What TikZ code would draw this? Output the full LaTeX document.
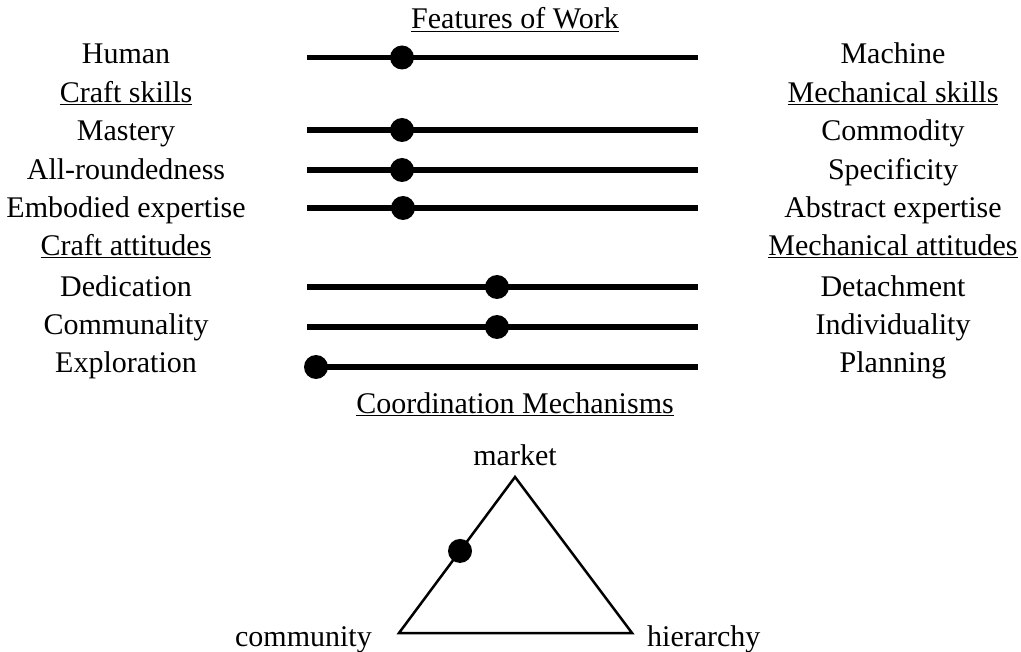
\documentclass[tikz,border=0pt]{standalone}
\usepackage{fontspec}
\setmainfont{Liberation Serif}
\usepackage{tikz}
\usetikzlibrary{positioning,calc}

\begin{document}
\begin{tikzpicture}[
  x=1pt, y=-1pt,
  lbl/.style={inner sep=0pt, anchor=base, font=\fontsize{30}{36}\selectfont},
  bar/.style={line width=5.5pt},
  knob/.style={circle, fill=black, inner sep=0pt, minimum size=24pt},
  tri/.style={line width=2.5pt, line join=miter}
]
\useasboundingbox (0,0) rectangle (1021,652);

% headings
\node[lbl] (work) at (515,29) {\underline{Features of Work}};
\node[lbl] (craftsk) at (126,103) {\underline{Craft skills}};
\node[lbl] (mechsk) at (893,103) {\underline{Mechanical skills}};
\node[lbl] (craftat) at (126,256) {\underline{Craft attitudes}};
\node[lbl] (mechat) at (893,256) {\underline{Mechanical attitudes}};
\node[lbl] (coord) at (515,414) {\underline{Coordination Mechanisms}};

% left labels
\node[lbl] (human) at (126,64) {Human};
\node[lbl] (mastery) at (126,141) {Mastery};
\node[lbl] (allround) at (126,180) {All-roundedness};
\node[lbl] (embodied) at (126,218) {Embodied expertise};
\node[lbl] (dedication) at (126,297) {Dedication};
\node[lbl] (communality) at (126,335) {Communality};
\node[lbl] (exploration) at (126,373) {Exploration};

% right labels
\node[lbl] (machine) at (893,64) {Machine};
\node[lbl] (commodity) at (893,141) {Commodity};
\node[lbl] (specificity) at (893,180) {Specificity};
\node[lbl] (abstract) at (893,218) {Abstract expertise};
\node[lbl] (detachment) at (893,297) {Detachment};
\node[lbl] (individuality) at (893,335) {Individuality};
\node[lbl] (planning) at (893,373) {Planning};

% scales
\coordinate (s1l) at (307,57.5); \coordinate (s1r) at (698,57.5);
\coordinate (s2l) at (307,130);  \coordinate (s2r) at (698,130);
\coordinate (s3l) at (307,170);  \coordinate (s3r) at (698,170);
\coordinate (s4l) at (307,208);  \coordinate (s4r) at (698,208);
\coordinate (s5l) at (307,287);  \coordinate (s5r) at (698,287);
\coordinate (s6l) at (307,327);  \coordinate (s6r) at (698,327);
\coordinate (s7l) at (307,367);  \coordinate (s7r) at (698,367);
\draw[bar] (s1l) -- (s1r);
\draw[bar] (s2l) -- (s2r);
\draw[bar] (s3l) -- (s3r);
\draw[bar] (s4l) -- (s4r);
\draw[bar] (s5l) -- (s5r);
\draw[bar] (s6l) -- (s6r);
\draw[bar] (s7l) -- (s7r);

% positions on scales
\node[knob] (k1) at (402,57.5) {};
\node[knob] (k2) at (402,130) {};
\node[knob] (k3) at (402,170) {};
\node[knob] (k4) at (403,208) {};
\node[knob] (k5) at (497,287) {};
\node[knob] (k6) at (497,327) {};
\node[knob] (k7) at (316,367) {};

% coordination triangle
\coordinate (top) at (515,477);
\coordinate (bl) at (399,633);
\coordinate (br) at (632,633);
\draw[tri] (top) -- (br) -- (bl) -- cycle;
\node[lbl] (market) at (515,466) {market};
\node[lbl, anchor=base east] (community) at (372,646) {community};
\node[lbl, anchor=base west] (hierarchy) at (647,646) {hierarchy};
\node[knob] (kc) at ($(bl)!0.526!(top)$) {};
\end{tikzpicture}
\end{document}
